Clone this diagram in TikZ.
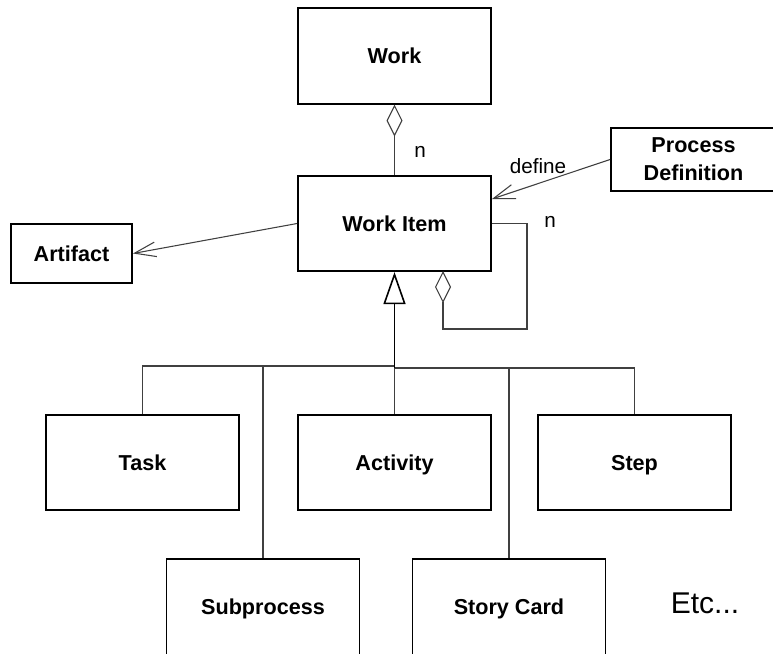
\documentclass[tikz,border=0pt]{standalone}
\usepackage{fontspec}
\setmainfont{Liberation Sans}
\usetikzlibrary{arrows.meta}
\begin{document}
\begin{tikzpicture}[x=0.75pt,y=-0.75pt,
  cls/.style={draw=black,line width=1.4pt,inner sep=0pt,align=center,
    font=\fontsize{16.2}{21}\selectfont\bfseries},
  bigbox/.style={cls,minimum width=144.75pt,minimum height=71.5pt,text height=11.6pt,text depth=0pt},
  lbl/.style={inner sep=0pt,font=\fontsize{15.5}{18}\selectfont},
  conn/.style={draw=black!75,line width=0.8pt},
  agg/.style={conn,-{Diamond[open,length=24pt,width=12pt]}},
  gen/.style={draw=black,line width=1.2pt,-{Triangle[open,length=24pt,width=16.5pt]}},
  dep/.style={conn,-{Straight Barb[length=16pt,width=11pt]}}]
\useasboundingbox (0,0) rectangle (773,653);

\node[bigbox] (work) at (394.5,56) {Work};
\node[bigbox] (wi) at (394.5,223.5) {Work Item};
\node[cls,minimum width=123.75pt,minimum height=47.25pt] (pd) at (693.5,159.5) {Process\\Definition};
\node[cls,minimum width=90.75pt,minimum height=44.25pt,text height=11.6pt,text depth=0pt] (art) at (71.5,253.5) {Artifact};
\node[bigbox] (task) at (142.5,462.5) {Task};
\node[bigbox] (act) at (394.5,462.5) {Activity};
\node[bigbox] (step) at (634.5,462.5) {Step};
\node[bigbox] (sub) at (263,607) {Subprocess};
\node[bigbox] (story) at (509,607) {Story Card};
\node[lbl,font=\fontsize{22.5}{26}\selectfont] (etc) at (705,603) {Etc...};

% aggregation Work <>-- Work Item
\draw[agg] (wi.north) -- (work.south);
\node[lbl] (n1) at (420,152) {n};

% define
\draw[dep] (pd.west) -- (wi.east |- 0,199);
\node[lbl] (def) at (538,166) {define};

% self aggregation
\coordinate (lp1) at (527,329);
\coordinate (lp2) at (443,271);
\draw[agg] (wi.east) -| (lp1) -| (lp2);
\node[lbl] (n2) at (550,222) {n};

% artifact
\draw[dep] (wi.west) -- (art.east);

% generalization tree
\coordinate (busL) at (394.5,366);
\coordinate (busR) at (394.5,368);
\draw[conn] (task.north) -- (task.north |- busL) -- (busL);
\draw[conn] (sub.north) -- (sub.north |- busL);
\draw[conn] (step.north) -- (step.north |- busR) -- (busR);
\draw[conn] (story.north) -- (story.north |- busR);
\draw[conn] (act.north) -- (busR);
\draw[gen] (busR) -- (wi.south);
\end{tikzpicture}
\end{document}
